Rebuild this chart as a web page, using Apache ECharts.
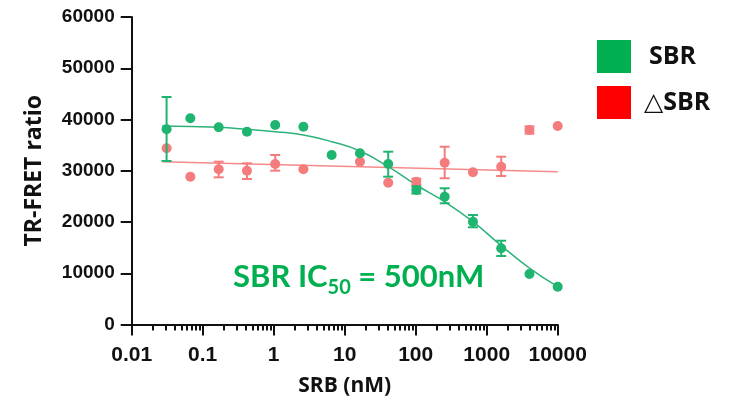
<!DOCTYPE html>
<html>
<head>
<meta charset="utf-8">
<script src="https://cdn.jsdelivr.net/npm/echarts@6/dist/echarts.min.js"></script>
<style>html,body{margin:0;padding:0;background:#fff;}#c{width:738px;height:408px;}</style>
</head>
<body>
<div id="c"></div>
<script>
// Concentrations (nM)
const concSBR = [0.031, 0.067, 0.168, 0.42, 1.05, 2.62, 6.55, 16.4, 41, 102, 256, 640, 1600, 4000, 10000];
const valSBR  = [38090, 40230, 38480, 37620, 38930, 38600, 33070, 33400, 31320, 26250, 24940, 20060, 14870, 9850, 7380];
const errLoSBR = [31900, null, null, null, null, null, null, null, 28840, 25550, 23650, 18970, 13370, null, null];
const errHiSBR = [44390, null, null, null, null, null, null, null, 33720, 26950, 26580, 21370, 16350, null, null];

const concDSBR = [0.031, 0.067, 0.168, 0.42, 1.05, 2.62, 16.4, 41, 102, 256, 640, 1600, 4000, 10000];
const valDSBR  = [34380, 28840, 30280, 30010, 31320, 30280, 31770, 27670, 27860, 31570, 29700, 30790, 37950, 38730];
const errLoDSBR = [null, null, 28720, 28390, 30010, null, null, null, 27260, 28530, null, 28980, 37250, null];
const errHiDSBR = [null, null, 31770, 31450, 33070, null, null, null, 28460, 34690, null, 32740, 38650, null];

// Fitted curves
const fitXSBR = [0.0268, 0.168, 0.42, 1.05, 2.62, 6.55, 16.4, 41, 102, 256, 640, 1600, 4000, 10000];
const fitYSBR = [38730, 38480, 38090, 37620, 36980, 35670, 33850, 30790, 27220, 23960, 20060, 15400, 11000, 7380];
const fitXDSBR = [0.0268, 10000];
const fitYDSBR = [31770, 29820];

const xMinorTicks = [0.02, 0.03, 0.04, 0.05, 0.06, 0.07, 0.08, 0.09,
  0.2, 0.3, 0.4, 0.5, 0.6, 0.7, 0.8, 0.9,
  2, 3, 4, 5, 6, 7, 8, 9,
  20, 30, 40, 50, 60, 70, 80, 90,
  200, 300, 400, 500, 600, 700, 800, 900,
  2000, 3000, 4000, 5000, 6000, 7000, 8000, 9000];

const GREEN = '#1fb46f', RED = '#f47c7c';
const GREEN_LINE = '#2db37a', RED_LINE = '#f58a8a';

function zip(a, b) { return a.map((v, i) => [v, b[i]]); }
function errData(x, lo, hi) { const out = []; x.forEach((v, i) => { if (lo[i] != null) out.push([v, lo[i], hi[i]]); }); return out; }

function errRender(color) {
  return function (params, api) {
    const x = api.value(0), lo = api.value(1), hi = api.value(2);
    const a = api.coord([x, hi]), b = api.coord([x, lo]);
    const w = 5;
    const st = { stroke: color, lineWidth: 2 };
    return { type: 'group', children: [
      { type: 'line', shape: { x1: a[0], y1: a[1], x2: b[0], y2: b[1] }, style: st },
      { type: 'line', shape: { x1: a[0] - w, y1: a[1], x2: a[0] + w, y2: a[1] }, style: st },
      { type: 'line', shape: { x1: b[0] - w, y1: b[1], x2: b[0] + w, y2: b[1] }, style: st }
    ]};
  };
}

const chart = echarts.init(document.getElementById('c'));
chart.setOption({
  animation: false,
  backgroundColor: '#fff',
  grid: { left: 131.7, right: 180.3, top: 17, bottom: 83.5, containLabel: false },
  xAxis: [{
    type: 'log', logBase: 10, min: 0.01, max: 10000,
    name: 'SRB (nM)', nameLocation: 'middle', nameGap: 51,
    nameTextStyle: { fontFamily: 'Open Sans', fontWeight: 'bold', fontSize: 21, color: '#111' },
    axisLine: { show: true, onZero: false, lineStyle: { color: '#111', width: 2 } },
    axisTick: { show: true, length: 11, lineStyle: { color: '#111', width: 2 } },
    axisLabel: { margin: 20, fontFamily: 'Liberation Sans', fontWeight: 'bold', fontSize: 21, color: '#111',
      formatter: v => String(v) },
    splitLine: { show: false }, minorTick: { show: false }
  }, {
    type: 'log', logBase: 10, min: 0.01, max: 10000, position: 'bottom', gridIndex: 0,
    axisLine: { show: false, onZero: false },
    axisTick: { show: true, length: 6, lineStyle: { color: '#111', width: 2 }, customValues: xMinorTicks },
    axisLabel: { show: false }, splitLine: { show: false }
  }],
  yAxis: {
    type: 'value', min: 0, max: 60000, interval: 10000,
    name: 'TR-FRET ratio', nameLocation: 'middle', nameGap: 86,
    nameTextStyle: { fontFamily: 'Open Sans', fontWeight: 'bold', fontSize: 23, color: '#111' },
    axisLine: { show: true, lineStyle: { color: '#111', width: 2 } },
    axisTick: { show: true, length: 11, lineStyle: { color: '#111', width: 2 } },
    axisLabel: { margin: 17, fontFamily: 'Liberation Sans', fontWeight: 'bold', fontSize: 19, color: '#111',
      formatter: v => String(v) },
    splitLine: { show: false }
  },
  legend: {
    orient: 'vertical', left: 592, top: 35, itemWidth: 34, itemHeight: 33, itemGap: 13,
    selectedMode: false,
    data: [
      { name: 'SBR', icon: 'rect', itemStyle: { color: '#00b050' } },
      { name: '△SBR', icon: 'rect', itemStyle: { color: '#ff0000' } }
    ],
    formatter: n => n === 'SBR' ? '{a|SBR}' : '{b|△SBR}',
    textStyle: {
      rich: {
        a: { fontFamily: 'Open Sans', fontWeight: 'bold', fontSize: 25, color: '#111', padding: [0, 0, 0, 13] },
        b: { fontFamily: 'Open Sans, DejaVu Sans', fontWeight: 'bold', fontSize: 25, color: '#111', padding: [0, 0, 0, 8] }
      }
    }
  },
  graphic: [{
    type: 'text', left: 233, top: 261,
    style: {
      text: '{a|SBR IC}{s|50}{a| = 500nM}',
      rich: {
        a: { fontFamily: 'Lato', fontWeight: 'bold', fontSize: 31, fill: '#00b050', color: '#00b050' },
        s: { fontFamily: 'Lato', fontWeight: 'bold', fontSize: 20, fill: '#00b050', color: '#00b050', padding: [22, 0, 0, 0] }
      }
    }
  }],
  series: [
    { name: 'fitSBR', type: 'line', data: zip(fitXSBR, fitYSBR), smooth: 0.5, showSymbol: false, symbol: 'none',
      lineStyle: { color: GREEN_LINE, width: 1.5 }, z: 1 },
    { name: 'fitDSBR', type: 'line', data: zip(fitXDSBR, fitYDSBR), showSymbol: false, symbol: 'none',
      lineStyle: { color: RED_LINE, width: 1.5 }, z: 1 },
    { name: 'errDSBR', type: 'custom', data: errData(concDSBR, errLoDSBR, errHiDSBR), renderItem: errRender(RED),
      encode: { x: 0, y: [1, 2] }, z: 2 },
    { name: '△SBR', type: 'scatter', data: zip(concDSBR, valDSBR), symbolSize: 10, itemStyle: { color: RED, opacity: 1 }, z: 3 },
    { name: 'errSBR', type: 'custom', data: errData(concSBR, errLoSBR, errHiSBR), renderItem: errRender(GREEN),
      encode: { x: 0, y: [1, 2] }, z: 4 },
    { name: 'SBR', type: 'scatter', data: zip(concSBR, valSBR), symbolSize: 10, itemStyle: { color: GREEN, opacity: 1 }, z: 5 }
  ]
});
</script>
</body>
</html>
